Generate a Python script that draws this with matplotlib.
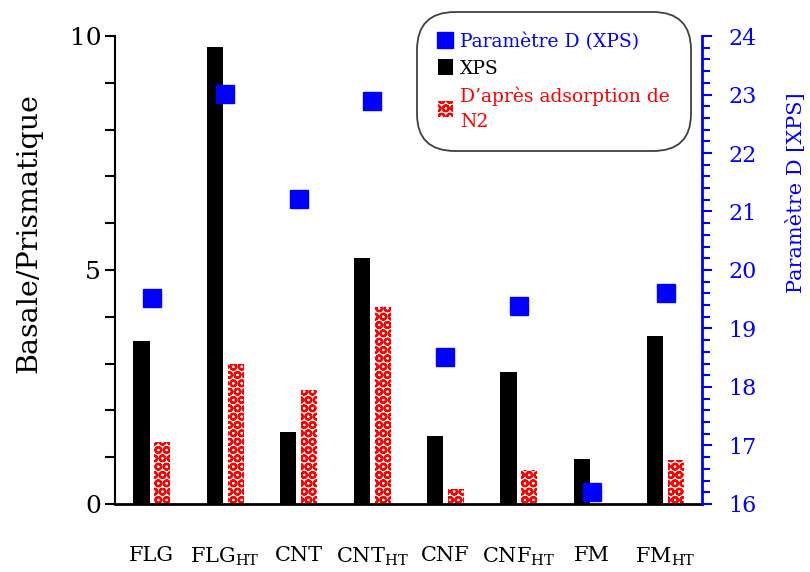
import numpy as np
import matplotlib as mpl
from matplotlib import pyplot as plt
from matplotlib.patches import Patch
from matplotlib.lines import Line2D

#   data
categories = ['FLG', r'FLG$_{\mathrm{HT}}$', 'CNT', r'CNT$_{\mathrm{HT}}$',
              'CNF', r'CNF$_{\mathrm{HT}}$', 'FM', r'FM$_{\mathrm{HT}}$']
xps = [3.48, 9.77, 1.54, 5.26, 1.45, 2.82, 0.96, 3.59]
n2 = [1.33, 2.99, 2.44, 4.21, 0.32, 0.73, 0.0, 0.94]
param_d = [19.52, 23.01, 21.21, 22.89, 18.51, 19.38, 16.20, 19.61]

plt.rcParams['font.family'] = ['DejaVu Serif']
plt.rcParams['mathtext.fontset'] = 'custom'
plt.rcParams['mathtext.rm'] = 'DejaVu Serif'
plt.rcParams['hatch.linewidth'] = 1.6

blue = '#0000ff'
red = '#ff0000'

fig = plt.figure(figsize=(8.1, 5.72), dpi=100)
ax = fig.add_axes([0.142, 0.119, 0.725, 0.818])
ax2 = ax.twinx()

x = np.arange(len(categories))
w = 0.22
ax.bar(x - 0.14, xps, w, color='black')
ax.bar(x + 0.145, n2, w, facecolor='white', edgecolor=red, hatch='OO', linewidth=0)
ax2.plot(x, param_d, 's', color=blue, markersize=13)

#    axes limits and ticks
ax.set_xlim(-0.5, 7.5)
ax.set_ylim(0, 10)
ax2.set_ylim(16, 24)
ax.set_yticks([0, 5, 10])
ax.set_yticks(np.arange(0, 11, 1), minor=True)
ax2.set_yticks(np.arange(16, 25, 1))
ax2.set_yticks(np.arange(16, 24.01, 0.2), minor=True)

ax.set_xticks(x)
ax.set_xticklabels(categories, fontsize=15)
ax.tick_params(axis='x', length=0, pad=30)
ax.tick_params(axis='y', which='major', length=7, width=1.5, labelsize=18, pad=3)
ax.tick_params(axis='y', which='minor', length=7, width=1.5)
ax2.tick_params(axis='y', which='major', length=7, width=1.5, colors=blue, labelsize=16, pad=12)
ax2.tick_params(axis='y', which='minor', length=6, width=1.5, colors=blue)

for a in (ax, ax2):
    a.spines['top'].set_visible(False)
ax.spines['right'].set_visible(False)
ax2.spines['left'].set_visible(False)
ax2.spines['bottom'].set_visible(False)
ax.spines['left'].set_linewidth(1.5)
ax.spines['bottom'].set_linewidth(2)
ax2.spines['right'].set_color(blue)
ax2.spines['right'].set_linewidth(2)

ax.set_ylabel('Basale/Prismatique', fontsize=20.5)
ax.yaxis.set_label_coords(-0.123, 0.58)
ax2.set_ylabel('Paramètre D [XPS]', fontsize=15, color=blue)
ax2.yaxis.set_label_coords(1.143, 0.665)

#    legend
handles = [
    Line2D([], [], marker='s', linestyle='none', color=blue, markersize=12),
    Patch(facecolor='black'),
    Patch(facecolor='white', edgecolor=red, hatch='OO', linewidth=0),
]
labels = ['Paramètre D (XPS)', 'XPS', "D’après adsorption de\nN2"]
leg = ax2.legend(handles, labels, loc='upper left', bbox_to_anchor=(417 / 810, 1 - 12 / 572),
                 bbox_transform=fig.transFigure, fontsize=13.5, handlelength=0.8,
                 handleheight=0.9, handletextpad=0.4, labelspacing=0.45,
                 borderpad=1.1, borderaxespad=0, fancybox=True, framealpha=1)
leg.get_frame().set_boxstyle('round,pad=0,rounding_size=2')
leg.get_frame().set_edgecolor('#404040')
leg.get_frame().set_linewidth(1.3)
for t, c in zip(leg.get_texts(), [blue, 'black', red]):
    t.set_color(c)
leg.get_texts()[2].set_linespacing(1.5)

fig.savefig('out.png', dpi=100)
